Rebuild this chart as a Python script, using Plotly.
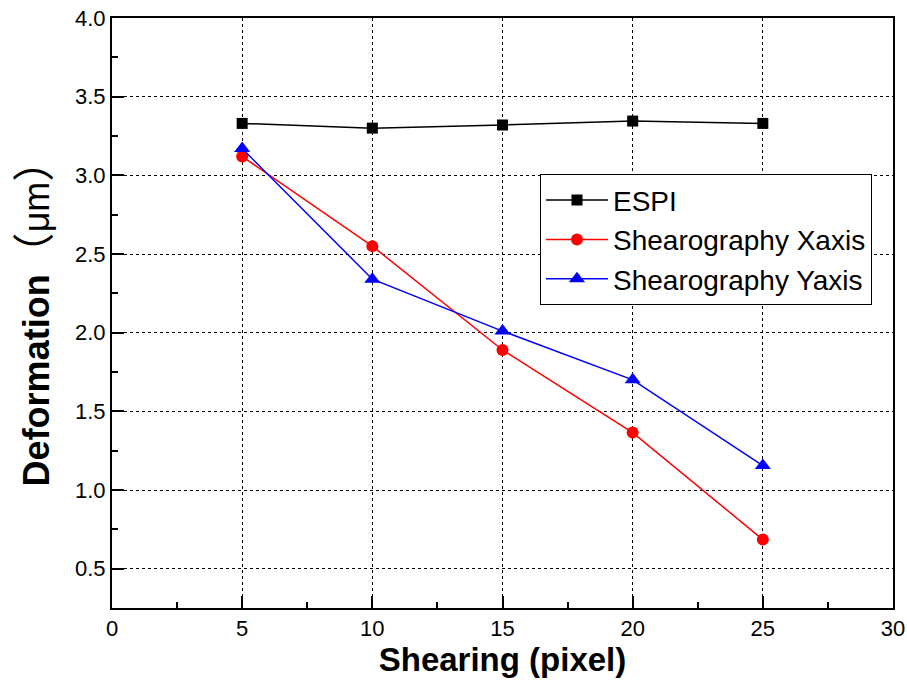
import plotly.graph_objects as go

# Shearing amount (pixel)
shearing = [5, 10, 15, 20, 25]

# Measured deformation (µm)
espi = [3.33, 3.30, 3.32, 3.345, 3.33]
shear_x = [3.12, 2.55, 1.89, 1.365, 0.685]
shear_y = [3.17, 2.34, 2.01, 1.70, 1.155]

series = [
    ("ESPI", espi, "black", "square", 11),
    ("Shearography Xaxis", shear_x, "red", "circle", 12),
    ("Shearography Yaxis", shear_y, "blue", "triangle-up", 14),
]

FONT = "Arial, Liberation Sans, sans-serif"

fig = go.Figure()
for name, vals, color, symbol, size in series:
    fig.add_trace(go.Scatter(
        x=shearing, y=vals, name=name, mode="lines+markers",
        line=dict(color=color, width=1.5),
        marker=dict(symbol=symbol, size=size, color=color),
    ))

axis_common = dict(
    automargin=False,
    showline=True, linecolor="black", linewidth=2, mirror=True,
    ticks="inside", tickcolor="black", tickwidth=2, ticklen=12,
    showgrid=True, gridcolor="black", gridwidth=1, griddash="dot",
    zeroline=False,
    tickfont=dict(family=FONT, size=22, color="black"),
)

fig.update_xaxes(
    range=[0, 30], tick0=0, dtick=5,
    minor=dict(ticks="inside", ticklen=6, tickwidth=2, tickcolor="black", dtick=2.5, showgrid=False),
    title=dict(text="<b>Shearing (pixel)</b>", standoff=2,
               font=dict(family=FONT, size=33, color="black")),
    **axis_common,
)

# full-width brackets around the unit
PAREN = "font-family:'Noto Sans CJK SC';font-size:42px"
fig.update_yaxes(
    range=[0.25, 4.0], tick0=0.5, dtick=0.5, tickformat=".1f",
    minor=dict(ticks="inside", ticklen=6, tickwidth=2, tickcolor="black", dtick=0.25, showgrid=False),
    title=dict(
        text=f"<b>Deformation</b><span style=\"{PAREN}\">（</span>μm<span style=\"{PAREN}\">）</span>",
        standoff=14,
        font=dict(family=FONT, size=36, color="black")),
    **axis_common,
)

fig.update_layout(
    width=907, height=684,
    margin=dict(l=112, r=14, t=18, b=76),
    plot_bgcolor="white", paper_bgcolor="white",
    legend=dict(
        x=0.548, y=0.735, xanchor="left", yanchor="top",
        bgcolor="white", bordercolor="black", borderwidth=1,
        font=dict(family=FONT, size=28, color="black"),
        itemwidth=62, tracegroupgap=0,
    ),
)

fig.write_html("out.html")
